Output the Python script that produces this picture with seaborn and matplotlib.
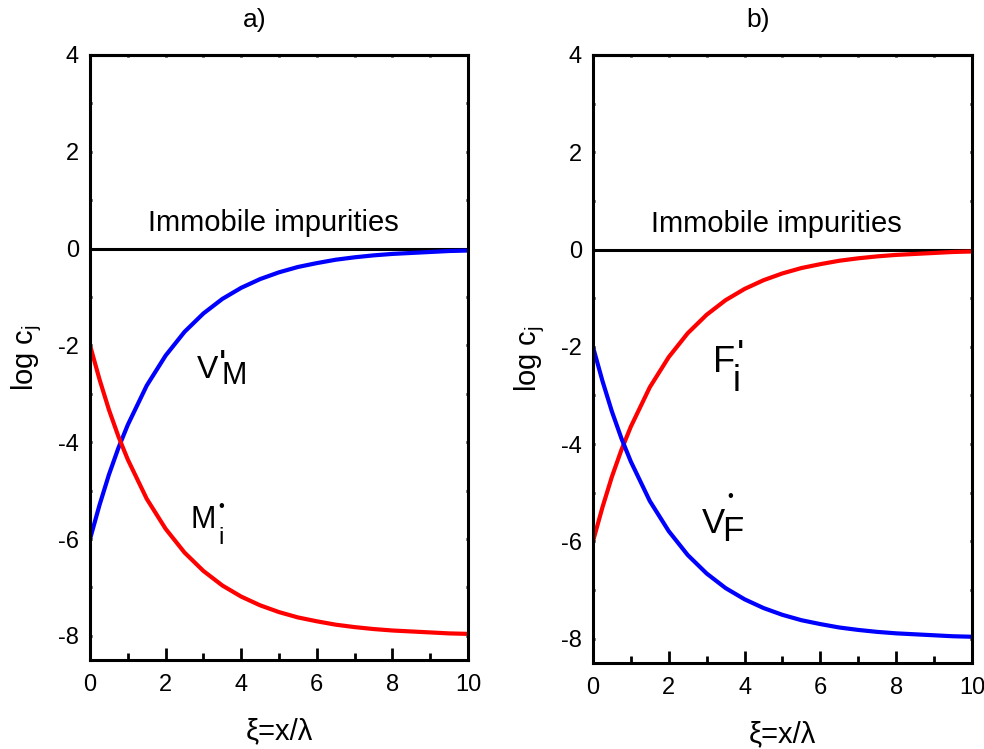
import matplotlib
matplotlib.use("Agg")
import matplotlib.pyplot as plt
import seaborn as sns
import pandas as pd
from matplotlib.ticker import MultipleLocator

sns.set_style("white")
plt.rcParams['font.family'] = ['Liberation Sans', 'DejaVu Sans']
plt.rcParams['mathtext.fontset'] = 'custom'
plt.rcParams['mathtext.rm'] = 'Liberation Sans'
plt.rcParams['mathtext.it'] = 'Liberation Sans'
plt.rcParams['axes.unicode_minus'] = False
plt.rcParams['text.color'] = 'black'
plt.rcParams['axes.labelcolor'] = 'black'
plt.rcParams['xtick.color'] = 'black'
plt.rcParams['ytick.color'] = 'black'

xi = [0, 0.25, 0.5, 0.75, 1, 1.5, 2, 2.5, 3, 3.5, 4, 4.5, 5, 5.5, 6, 6.5, 7, 7.5, 8, 8.5, 9, 9.5, 10]
rising = [-6.00, -5.30, -4.67, -4.12, -3.64, -2.83, -2.21, -1.72, -1.34, -1.04, -0.81, -0.63,
          -0.49, -0.38, -0.30, -0.23, -0.18, -0.14, -0.11, -0.09, -0.07, -0.05, -0.04]
falling = [-2.00, -2.70, -3.33, -3.88, -4.36, -5.17, -5.79, -6.28, -6.66, -6.96, -7.19, -7.37,
           -7.51, -7.62, -7.70, -7.77, -7.82, -7.86, -7.89, -7.91, -7.93, -7.95, -7.96]
immobile_x = [0, 10]
immobile_y = [0, 0]
titles = ["a)", "b)"]
xticks = [0, 2, 4, 6, 8, 10]
yticks = [4, 2, 0, -2, -4, -6, -8]

fig = plt.figure(figsize=(9.84, 7.49), dpi=100)
axes = [fig.add_axes([0.0915, 0.1188, 0.3841, 0.8078]),
        fig.add_axes([0.6026, 0.1148, 0.3852, 0.8118])]

# species labels: (base position), list of (text, dx pt, dy pt, size)
panels = [
    dict(rise_color="#0000ff", fall_color="#ff0000",
         lab1=(2.83, -2.68, [("V", 0, 0, 23), ("M", 17.6, -4.3, 22), ("'", 16.0, 0.7, 28)]),
         lab2=(2.65, -5.77, [("M", 0, 0, 22), ("i", 20.5, -11.5, 17), ("•", 20.0, 12.0, 12)])),
    dict(rise_color="#ff0000", fall_color="#0000ff",
         lab1=(3.17, -2.52, [("F", 0, 0, 26), ("i", 14.4, -13.7, 26), ("'", 17.3, 3.6, 28)]),
         lab2=(2.88, -5.83, [("V", 0, 0, 25), ("F", 14.6, -5.8, 25), ("•", 18.0, 23.0, 12)])),
]

df = pd.DataFrame({"xi": xi, "rising": rising, "falling": falling})
dfi = pd.DataFrame({"x": immobile_x, "y": immobile_y})


def species(ax, spec):
    x, y, parts = spec
    for s, dx, dy, size in parts:
        ax.annotate(s, xy=(x, y), xytext=(dx, dy), textcoords="offset points",
                    fontsize=size, ha="left", va="baseline", color="black")


for ax, p, t in zip(axes, panels, titles):
    sns.lineplot(data=dfi, x="x", y="y", ax=ax, color="black", lw=2.2)
    sns.lineplot(data=df, x="xi", y="rising", ax=ax, color=p["rise_color"], lw=3)
    sns.lineplot(data=df, x="xi", y="falling", ax=ax, color=p["fall_color"], lw=3)
    ax.set_xlim(0, 10)
    ax.set_ylim(-8.5, 4)
    ax.set_xticks(xticks)
    ax.set_yticks(yticks)
    ax.xaxis.set_minor_locator(MultipleLocator(1))
    ax.yaxis.set_minor_locator(MultipleLocator(1))
    ax.tick_params(axis='x', which='major', direction='in', length=8.3, width=2, labelsize=17,
                   bottom=True, top=False, pad=10)
    ax.tick_params(axis='x', which='minor', direction='in', length=4.7, width=2, bottom=True, top=False)
    ax.tick_params(axis='y', which='both', direction='in', length=1.5, width=2, labelsize=17,
                   left=True, right=True, pad=8)
    sec = ax.secondary_xaxis('top')
    sec.set_xticks(xticks)
    sec.xaxis.set_minor_locator(MultipleLocator(1))
    sec.tick_params(axis='x', which='both', direction='in', length=1.5, width=2, labeltop=False)
    for sp in sec.spines.values():
        sp.set_linewidth(2.2)
        sp.set_color("black")
    for sp in ax.spines.values():
        sp.set_linewidth(2.2)
        sp.set_color("black")
    ax.set_xlabel("ξ=x/λ", fontsize=21, labelpad=15)
    ax.set_ylabel(r"log c$_{\mathregular{j}}$", fontsize=21, labelpad=10)
    ax.set_title(t, fontsize=19, pad=20, x=0.435)
    ax.text(1.53, 0.37, "Immobile impurities", fontsize=21, va="baseline", ha="left")
    species(ax, p["lab1"])
    species(ax, p["lab2"])

fig.savefig("out.png", dpi=100)
